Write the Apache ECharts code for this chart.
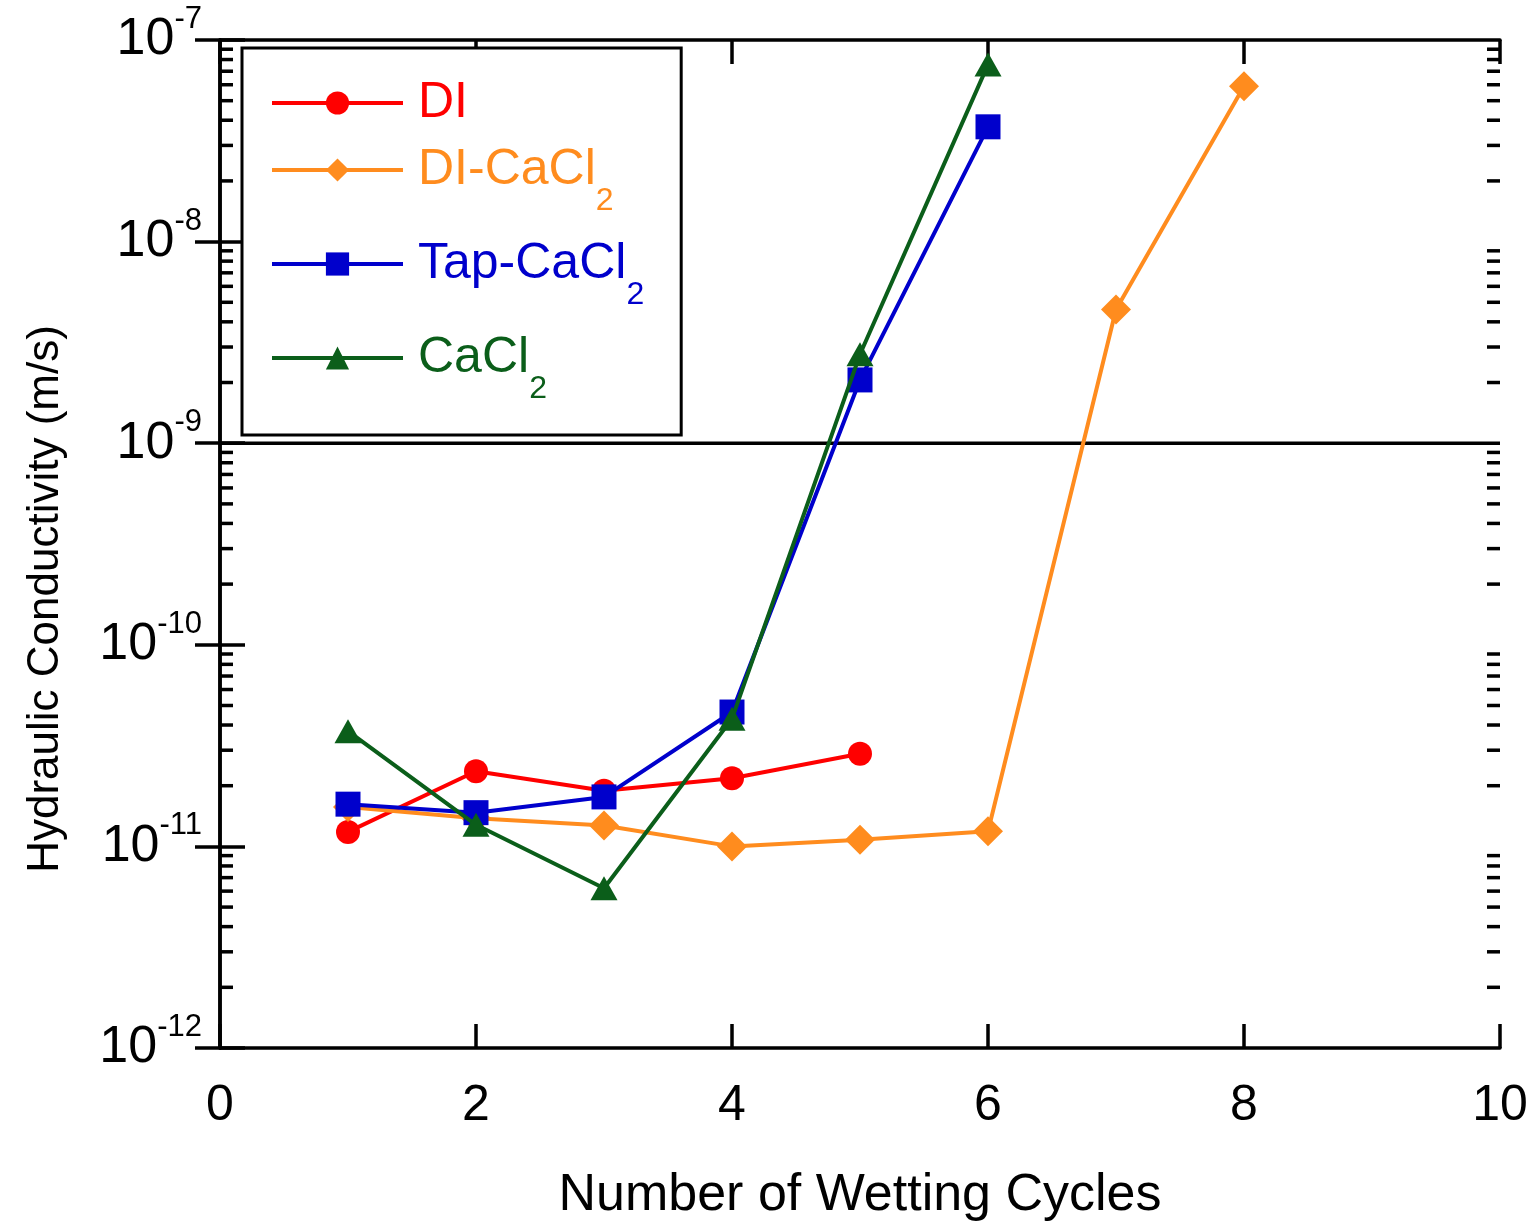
<!DOCTYPE html>
<html>
<head>
<meta charset="utf-8">
<title>Hydraulic Conductivity vs Wetting Cycles</title>
<script src="https://cdn.jsdelivr.net/npm/echarts@6/dist/echarts.min.js"></script>
<style>
    html, body { margin: 0; padding: 0; background: #fff; }
    #chart { width: 1537px; height: 1224px; }
</style>
</head>
<body>
<div id="chart"></div>
<script>
// values
var seriesNames = ['DI', 'DI-CaCl2', 'Tap-CaCl2', 'CaCl2'];
var seriesColors = ['#ff0000', '#ff8c1e', '#0000cc', '#0b5e1a'];

var diCycles = [1, 2, 3, 4, 5];
var diK = [1.18e-11, 2.36e-11, 1.89e-11, 2.18e-11, 2.88e-11];

var diCaCycles = [1, 2, 3, 4, 5, 6, 7, 8];
var diCaK = [1.57e-11, 1.38e-11, 1.27e-11, 1.0e-11, 1.08e-11, 1.19e-11, 4.6e-9, 5.9e-8];

var tapCycles = [1, 2, 3, 4, 5, 6];
var tapK = [1.62e-11, 1.47e-11, 1.76e-11, 4.64e-11, 2.06e-9, 3.71e-8];

var caCycles = [1, 2, 3, 4, 5, 6];
var caK = [3.73e-11, 1.28e-11, 6.2e-12, 4.3e-11, 2.76e-9, 7.55e-8];

var xTicks = [0, 2, 4, 6, 8, 10];
var yExponents = [-12, -11, -10, -9, -8, -7];
var limitK = 1e-9;

var FONT = 'Liberation Sans, Arial, sans-serif';

function pairs(xs, ys) {
    return xs.map(function (x, i) { return [x, ys[i]]; });
}

// log minor ticks 2..9 x 10^n
var minorTicks = [];
for (var e = yExponents[0]; e < yExponents[yExponents.length - 1]; e++) {
    for (var m = 2; m <= 9; m++) {
        minorTicks.push([0, m * Math.pow(10, e)]);
    }
}

var legendRich = {};
seriesNames.forEach(function (name, i) {
    legendRich['m' + i] = {
        color: seriesColors[i], fontFamily: FONT, fontSize: 50,
        lineHeight: i === 0 ? 32 : 50, padding: [0, 0, 0, 10]
    };
    legendRich['s' + i] = {
        color: seriesColors[i], fontFamily: FONT, fontSize: 32,
        lineHeight: 32, verticalAlign: 'top', padding: [40, 0, 5, 0]
    };
});

var axisLineStyle = { color: '#000', width: 3.5 };

(function () {
    var myChart = echarts.init(document.getElementById('chart'));

    var lineSeries = function (i, data, symbol, size) {
        return {
            name: seriesNames[i],
            type: 'line',
            data: data,
            symbol: symbol,
            symbolSize: size,
            showSymbol: true,
            lineStyle: { color: seriesColors[i], width: 4 },
            itemStyle: { color: seriesColors[i] },
            emphasis: { disabled: true },
            z: 3 + i
        };
    };

    var option = {
        animation: false,
        backgroundColor: '#fff',
        grid: { left: 220, right: 37, top: 40, bottom: 176, containLabel: false, outerBoundsMode: 'none' },
        legend: {
            orient: 'vertical',
            left: 242,
            top: 48,
            data: seriesNames,
            selectedMode: false,
            itemWidth: 131,
            itemHeight: 29,
            itemGap: 17,
            padding: [30, 37, 25, 28],
            borderColor: '#000',
            borderWidth: 3,
            backgroundColor: '#fff',
            lineStyle: { width: 4 },
            formatter: function (name) {
                var i = seriesNames.indexOf(name);
                if (i === 0) return '{m0|' + name + '}';
                return '{m' + i + '|' + name.slice(0, -1) + '}{s' + i + '|2}';
            },
            textStyle: { fontFamily: FONT, rich: legendRich }
        },
        xAxis: [{
            type: 'value',
            min: xTicks[0],
            max: xTicks[xTicks.length - 1],
            interval: 2,
            name: 'Number of Wetting Cycles',
            nameLocation: 'middle',
            nameGap: 122,
            nameTextStyle: { fontFamily: FONT, fontSize: 52, color: '#000' },
            axisLine: { show: true, lineStyle: axisLineStyle },
            axisTick: { show: true, inside: true, length: 24, lineStyle: axisLineStyle },
            axisLabel: { fontFamily: FONT, fontSize: 50, color: '#000', margin: 33 },
            splitLine: { show: false }
        }, {
            type: 'value',
            position: 'top',
            min: xTicks[0],
            max: xTicks[xTicks.length - 1],
            interval: 2,
            axisLine: { show: true, lineStyle: axisLineStyle },
            axisTick: { show: true, inside: true, length: 24, lineStyle: axisLineStyle },
            axisLabel: { show: false },
            splitLine: { show: false }
        }],
        yAxis: [{
            type: 'log',
            logBase: 10,
            min: Math.pow(10, yExponents[0]),
            max: Math.pow(10, yExponents[yExponents.length - 1]),
            name: 'Hydraulic Conductivity (m/s)',
            nameLocation: 'middle',
            nameGap: 152,
            nameRotate: 90,
            nameTextStyle: { fontFamily: FONT, fontSize: 44, color: '#000', padding: [0, 110, 0, 0] },
            axisLine: { show: true, lineStyle: axisLineStyle },
            axisTick: { show: true, inside: true, length: 25, lineStyle: axisLineStyle },
            axisLabel: {
                margin: 18,
                formatter: function (v) {
                    return '{b|10}{s|' + Math.round(Math.log10(v)) + '}';
                },
                rich: {
                    b: { fontFamily: FONT, fontSize: 52, lineHeight: 72, color: '#000' },
                    s: { fontFamily: FONT, fontSize: 31, lineHeight: 31, color: '#000', verticalAlign: 'top' }
                }
            },
            splitLine: { show: false }
        }, {
            type: 'log',
            logBase: 10,
            position: 'right',
            min: Math.pow(10, yExponents[0]),
            max: Math.pow(10, yExponents[yExponents.length - 1]),
            axisLine: { show: true, lineStyle: axisLineStyle },
            axisTick: { show: true, inside: true, length: 25, lineStyle: axisLineStyle },
            axisLabel: { show: false },
            splitLine: { show: false }
        }],
        series: [
            {
                name: 'minor',
                type: 'custom',
                silent: true,
                z: 1,
                data: minorTicks,
                renderItem: function (params, api) {
                    var cs = params.coordSys;
                    var y = api.coord([api.value(0), api.value(1)])[1];
                    var st = { stroke: '#000', lineWidth: 3.5 };
                    return {
                        type: 'group',
                        children: [
                            { type: 'line', shape: { x1: cs.x, y1: y, x2: cs.x + 13, y2: y }, style: st },
                            { type: 'line', shape: { x1: cs.x + cs.width - 13, y1: y, x2: cs.x + cs.width, y2: y }, style: st }
                        ]
                    };
                }
            },
            {
                // 1e-9 m/s reference line
                name: 'limit',
                type: 'line',
                silent: true,
                symbol: 'none',
                data: [[xTicks[0], limitK], [xTicks[xTicks.length - 1], limitK]],
                lineStyle: { color: '#000', width: 3.5 },
                emphasis: { disabled: true },
                z: 2
            },
            lineSeries(0, pairs(diCycles, diK), 'circle', 24),
            lineSeries(1, pairs(diCaCycles, diCaK), 'diamond', 30),
            lineSeries(2, pairs(tapCycles, tapK), 'rect', 25),
            lineSeries(3, pairs(caCycles, caK), 'triangle', [27, 24])
        ]
    };

    myChart.setOption(option);
    window.addEventListener('resize', function () {
        myChart.resize();
    });
})();
</script>
</body>
</html>
